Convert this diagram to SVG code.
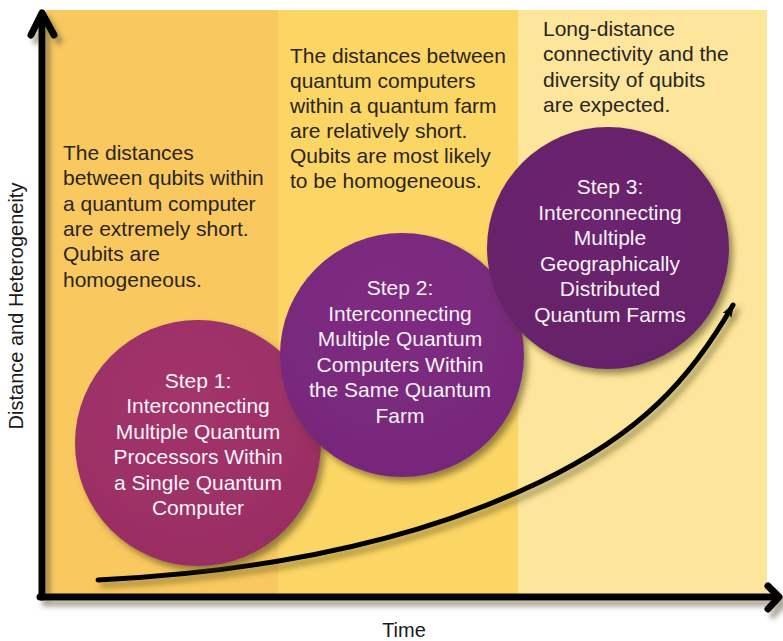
<svg xmlns="http://www.w3.org/2000/svg" width="783" height="641" viewBox="0 0 783 641">
<style>
.note{font-family:"Liberation Sans",Arial,sans-serif;font-size:21px;fill:#2a2522;}
.step{font-family:"Liberation Sans",Arial,sans-serif;font-size:21px;fill:#f7f2f7;text-anchor:middle;}
.lbl{font-family:"Liberation Sans",Arial,sans-serif;font-size:20px;fill:#1a1a1a;text-anchor:middle;}
.axis{fill:none;stroke:#000;stroke-width:7;stroke-linecap:round;stroke-linejoin:round;}
</style>
<defs>
<filter id="sh" x="-20%" y="-20%" width="150%" height="150%">
<feDropShadow dx="4" dy="5" stdDeviation="3" flood-color="#4a3d10" flood-opacity="0.55"/>
</filter>
<filter id="shA" x="-5%" y="-5%" width="115%" height="115%">
<feDropShadow dx="5" dy="6" stdDeviation="2.5" flood-color="#5a5030" flood-opacity="0.5"/>
</filter>
<radialGradient id="g1" cx="45%" cy="35%" r="70%">
<stop offset="0" stop-color="#a3356b"/><stop offset="1" stop-color="#982d63"/>
</radialGradient>
<radialGradient id="g2" cx="45%" cy="35%" r="70%">
<stop offset="0" stop-color="#7f2c82"/><stop offset="1" stop-color="#76277a"/>
</radialGradient>
<radialGradient id="g3" cx="45%" cy="35%" r="70%">
<stop offset="0" stop-color="#6c256f"/><stop offset="1" stop-color="#652169"/>
</radialGradient>
<marker id="ah" viewBox="0 0 14 10" refX="12" refY="5" markerWidth="14" markerHeight="10" markerUnits="userSpaceOnUse" orient="auto">
<path d="M0,0 L14,5 L0,10 L3,5 Z" fill="#000"/>
</marker>
</defs>
<rect width="783" height="641" fill="#fff"/>
<g id="bands">
<rect x="46" y="10" width="232" height="584" fill="#f9c960"/>
<rect x="278" y="10" width="240" height="584" fill="#fcd665"/>
<rect x="518" y="10" width="249" height="584" fill="#fde59b"/>
</g>
<g id="note1">
<text class="note" x="63" y="160">The distances</text>
<text class="note" x="63" y="185.3">between qubits within</text>
<text class="note" x="63" y="210.6">a quantum computer</text>
<text class="note" x="63" y="236">are extremely short.</text>
<text class="note" x="63" y="261.2">Qubits are</text>
<text class="note" x="63" y="286.5">homogeneous.</text>
</g>
<g id="note2">
<text class="note" x="290" y="63.3">The distances between</text>
<text class="note" x="290" y="88.3">quantum computers</text>
<text class="note" x="290" y="113.3">within a quantum farm</text>
<text class="note" x="290" y="138.3">are relatively short.</text>
<text class="note" x="290" y="163.3">Qubits are most likely</text>
<text class="note" x="290" y="188.3">to be homogeneous.</text>
</g>
<g id="note3">
<text class="note" x="543" y="36">Long-distance</text>
<text class="note" x="543" y="61.3">connectivity and the</text>
<text class="note" x="543" y="86.6">diversity of qubits</text>
<text class="note" x="543" y="111.9">are expected.</text>
</g>
<g id="connectors">
<g filter="url(#shA)">
<path class="axis" d="M42,597 L42,14"/>
<path class="axis" d="M31,35 L42,13 L54,35"/>
<path class="axis" d="M40,597 L778,597"/>
<path class="axis" d="M768,586 L779,597 L768,609"/>
</g>
<path d="M98,580 C300,570 440,530 540,482 S690,380 733,305" fill="none" stroke="#000" stroke-width="5" stroke-linecap="round" marker-end="url(#ah)" filter="url(#sh)"/>
</g>
<g id="step1">
<circle cx="198" cy="443" r="123" fill="url(#g1)" filter="url(#sh)"/>
<text class="step" x="198" y="387.5">Step 1:</text>
<text class="step" x="198" y="413">Interconnecting</text>
<text class="step" x="198" y="438.5">Multiple Quantum</text>
<text class="step" x="198" y="464">Processors Within</text>
<text class="step" x="198" y="489.5">a Single Quantum</text>
<text class="step" x="198" y="515">Computer</text>
</g>
<g id="step2">
<circle cx="402" cy="355" r="122" fill="url(#g2)" filter="url(#sh)"/>
<text class="step" x="400" y="295">Step 2:</text>
<text class="step" x="400" y="320.6">Interconnecting</text>
<text class="step" x="400" y="346.2">Multiple Quantum</text>
<text class="step" x="400" y="371.8">Computers Within</text>
<text class="step" x="400" y="397.4">the Same Quantum</text>
<text class="step" x="400" y="423">Farm</text>
</g>
<g id="step3">
<circle cx="608" cy="248" r="121" fill="url(#g3)" filter="url(#sh)"/>
<text class="step" x="610" y="194">Step 3:</text>
<text class="step" x="610" y="219.5">Interconnecting</text>
<text class="step" x="610" y="245">Multiple</text>
<text class="step" x="610" y="270.5">Geographically</text>
<text class="step" x="610" y="296">Distributed</text>
<text class="step" x="610" y="321.5">Quantum Farms</text>
</g>
<g id="labels">
<text class="lbl" x="404" y="637">Time</text>
<text class="lbl" transform="translate(23,306) rotate(-90)">Distance and Heterogeneity</text>
</g>
</svg>
